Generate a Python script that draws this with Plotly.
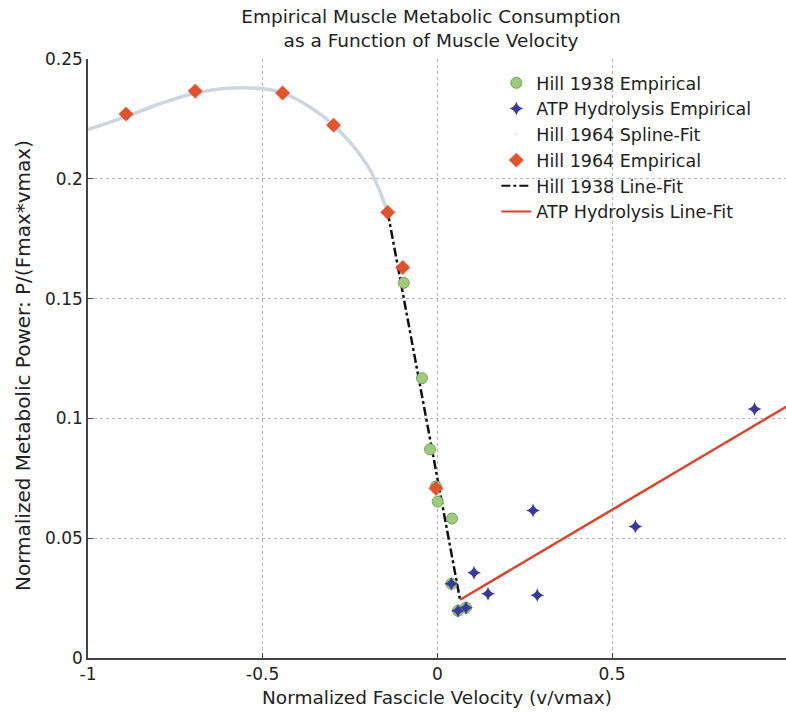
import plotly.graph_objects as go

# ---- data ----
hill1938_x = [-0.096, -0.044, -0.021, -0.004, 0.001, 0.042, 0.040, 0.059, 0.082]
hill1938_y = [0.1566, 0.1168, 0.0871, 0.0716, 0.0653, 0.0582, 0.0310, 0.0197, 0.0210]

atp_x = [0.040, 0.059, 0.082, 0.105, 0.145, 0.274, 0.286, 0.567, 0.908]
atp_y = [0.0310, 0.0197, 0.0210, 0.0356, 0.0268, 0.0616, 0.0262, 0.0549, 0.1039]

spline_x = [-1.0, -0.9, -0.8, -0.7, -0.6, -0.5, -0.45, -0.4, -0.3, -0.2, -0.142]
spline_y = [0.2205, 0.2255, 0.2310, 0.2355, 0.2378, 0.2376, 0.2362, 0.2330, 0.2228, 0.2055, 0.1860]

hill1964_x = [-0.891, -0.693, -0.443, -0.297, -0.142, -0.099, -0.004]
hill1964_y = [0.2270, 0.2366, 0.2358, 0.2224, 0.1860, 0.1630, 0.0708]

h38fit_x = [-0.142, 0.065]
h38fit_y = [0.1860, 0.0243]

atpfit_x = [0.065, 1.0]
atpfit_y = [0.0243, 0.1050]

x_ticks = [-1, -0.5, 0, 0.5]
x_ticklabels = ["-1", "-0.5", "0", "0.5"]
y_ticks = [0, 0.05, 0.1, 0.15, 0.2, 0.25]
y_ticklabels = ["0", "0.05", "0.1", "0.15", "0.2", "0.25"]

FONT = "DejaVu Sans, sans-serif"
TXT = "#222222"

fig = go.Figure()

# spline (drawn first, beneath)
fig.add_trace(go.Scatter(x=spline_x, y=spline_y, mode="lines", line_shape="spline",
                         line=dict(color="#cfd5e0", width=3.5), showlegend=False,
                         hoverinfo="skip"))

fig.add_trace(go.Scatter(x=h38fit_x, y=h38fit_y, mode="lines", name="Hill 1938 Line-Fit",
                         line=dict(color="#111111", width=2.5, dash="dashdot"), showlegend=False))
fig.add_trace(go.Scatter(x=atpfit_x, y=atpfit_y, mode="lines", name="ATP Hydrolysis Line-Fit",
                         line=dict(color="#d8452b", width=2.5), showlegend=False))

fig.add_trace(go.Scatter(x=hill1938_x, y=hill1938_y, mode="markers", name="Hill 1938 Empirical",
                         marker=dict(symbol="circle", size=11, color="#9dcc7c",
                                     line=dict(color="#6ea857", width=1))))
fig.add_trace(go.Scatter(x=atp_x, y=atp_y, mode="markers", name="ATP Hydrolysis Empirical",
                         marker=dict(symbol="star-diamond", size=10, color="#3a3a9e",
                                     line=dict(width=0))))
# legend entry for spline (faint)
fig.add_trace(go.Scatter(x=[None], y=[None], mode="markers", name="Hill 1964 Spline-Fit",
                         marker=dict(symbol="circle", size=3, color="#e6e8ee")))
fig.add_trace(go.Scatter(x=hill1964_x, y=hill1964_y, mode="markers", name="Hill 1964 Empirical",
                         marker=dict(symbol="diamond", size=11, color="#e2532c",
                                     line=dict(color="#d04a28", width=0.5))))
# legend entries for lines
fig.add_trace(go.Scatter(x=[None], y=[None], mode="lines", name="Hill 1938 Line-Fit",
                         line=dict(color="#111111", width=2, dash="dashdot")))
fig.add_trace(go.Scatter(x=[None], y=[None], mode="lines", name="ATP Hydrolysis Line-Fit",
                         line=dict(color="#d8452b", width=2)))

axis_common = dict(showgrid=True, gridcolor="#b5b5b5", griddash="dot", gridwidth=1,
                   zeroline=False, showline=True, linecolor="#444444", linewidth=1.5,
                   ticks="inside", ticklen=5, tickcolor="#444444",
                   tickfont=dict(family=FONT, size=17, color=TXT))

fig.update_layout(
    width=786, height=719,
    margin=dict(l=88, r=0, t=59, b=61),
    paper_bgcolor="white", plot_bgcolor="white",
    title=dict(text="Empirical Muscle Metabolic Consumption<br>as a Function of Muscle Velocity",
               x=431 / 786, xanchor="center", y=1 - 23 / 719, yanchor="middle",
               font=dict(family=FONT, size=18.5, color=TXT)),
    xaxis=dict(range=[-1, 0.998], tickvals=x_ticks, ticktext=x_ticklabels, **axis_common),
    yaxis=dict(range=[0, 0.25], tickvals=y_ticks, ticktext=y_ticklabels, **axis_common),
    legend=dict(x=0.585, y=0.99, xanchor="left", yanchor="top",
                bgcolor="rgba(255,255,255,0)", borderwidth=0,
                font=dict(family=FONT, size=17.5, color=TXT), tracegroupgap=0),
    showlegend=True,
)

fig.add_annotation(text="Normalized Fascicle Velocity (v/vmax)", xref="paper", yref="paper",
                   x=0.5, y=-(697 - 658) / 599, xanchor="center", yanchor="middle",
                   showarrow=False, font=dict(family=FONT, size=18.5, color=TXT))
fig.add_annotation(text="Normalized Metabolic Power: P/(Fmax*vmax)", xref="paper", yref="paper",
                   x=-(88 - 23) / 698, y=(658 - 366) / 599, xanchor="center", yanchor="middle",
                   textangle=-90, showarrow=False, font=dict(family=FONT, size=20, color=TXT))

fig.write_html("out.html")
